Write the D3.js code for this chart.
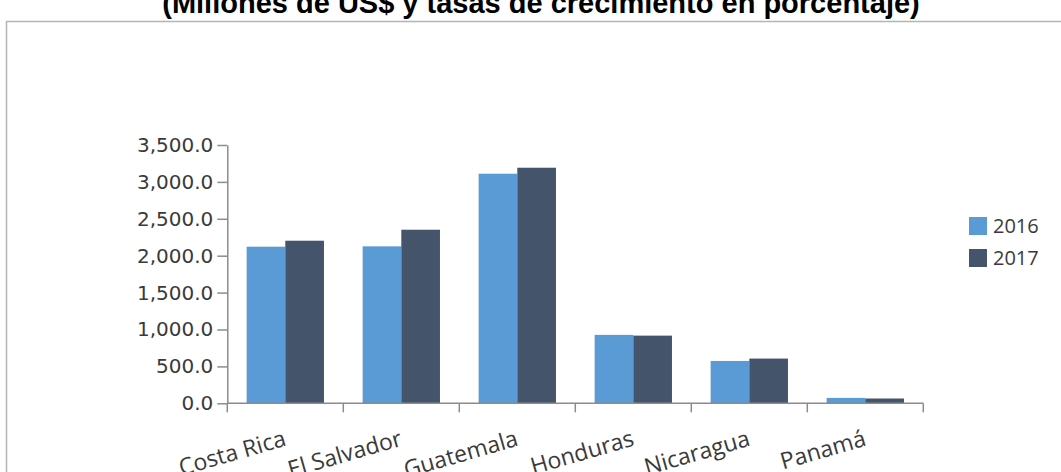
<!DOCTYPE html>
<html>
<head>
<meta charset="utf-8">
<script src="https://cdn.jsdelivr.net/npm/d3@7"></script>
<style>
  html, body { margin: 0; padding: 0; background: #fff; }
  svg { display: block; }
</style>
</head>
<body>
<svg id="chart" width="1061" height="472"></svg>
<script>
// Exports by country, millions of US$
const categories = ["Costa Rica", "El Salvador", "Guatemala", "Honduras", "Nicaragua", "Panamá"];
const seriesNames = ["2016", "2017"];
const values2016 = [2122, 2127, 3111, 927, 574, 73];
const values2017 = [2203, 2352, 3192, 917, 606, 65];
const yTicks = [0, 500, 1000, 1500, 2000, 2500, 3000, 3500];
const colors = ["#5B9BD5", "#44546A"];
const title = "(Millones de US$ y tasas de crecimiento en porcentaje)";

const seriesValues = [values2016, values2017];
const rows = categories.map((c, i) => ({
  category: c,
  values: seriesNames.map((s, j) => ({ series: s, value: seriesValues[j][i] }))
}));

const svg = d3.select("#chart");
const font = "'Open Sans', 'DejaVu Sans', sans-serif";
const axisColor = "#8c8c8c";
const textColor = "#3a3a3a";

// Outer frame (runs past the right and bottom edges)
svg.append("rect")
  .attr("x", 6.5).attr("y", 21.5)
  .attr("width", 1100).attr("height", 500)
  .attr("fill", "none")
  .attr("stroke", "#b4b4b4")
  .attr("stroke-width", 1.5);

// Title, sitting above the frame
svg.append("text")
  .attr("x", 541).attr("y", 13)
  .attr("text-anchor", "middle")
  .attr("font-family", "'Liberation Sans', Arial, sans-serif")
  .attr("font-weight", "bold")
  .attr("font-size", 29)
  .attr("fill", "#000")
  .text(title);

const plot = { left: 227.3, right: 923.3, top: 145, bottom: 403.3 };

const x0 = d3.scaleBand().domain(categories).range([plot.left, plot.right]).paddingInner(0).paddingOuter(0);
const x1 = d3.scaleBand().domain(seriesNames).range([0, x0.bandwidth()]).paddingInner(0).paddingOuter(0.5);
const y = d3.scaleLinear().domain([0, 3500]).range([plot.bottom, plot.top]);
const color = d3.scaleOrdinal().domain(seriesNames).range(colors);

// Bars
svg.append("g").selectAll("g")
  .data(rows)
  .join("g")
  .attr("transform", d => `translate(${x0(d.category)},0)`)
  .selectAll("rect")
  .data(d => d.values)
  .join("rect")
  .attr("x", d => x1(d.series))
  .attr("y", d => y(d.value))
  .attr("width", x1.bandwidth())
  .attr("height", d => y(0) - y(d.value))
  .attr("fill", d => color(d.series));

// Y axis
const yAxis = svg.append("g")
  .attr("transform", `translate(${plot.left},0)`)
  .call(d3.axisLeft(y).tickValues(yTicks).tickFormat(d3.format(",.1f")).tickSize(10).tickPadding(4).tickSizeOuter(0));
yAxis.select(".domain").attr("stroke", axisColor).attr("stroke-width", 1.5);
yAxis.selectAll(".tick line").attr("stroke", axisColor).attr("stroke-width", 1.5);
yAxis.selectAll(".tick text")
  .attr("font-family", "'DejaVu Sans', Verdana, sans-serif").attr("font-size", 20).attr("fill", textColor);

// X axis: ticks at the category boundaries
const boundaries = categories.map(c => x0(c)).concat([x0(categories[categories.length - 1]) + x0.bandwidth()]);
const xAxis = svg.append("g").attr("transform", `translate(0,${plot.bottom})`);
xAxis.append("line")
  .attr("x1", plot.left).attr("x2", plot.right)
  .attr("stroke", axisColor).attr("stroke-width", 1.5);
xAxis.selectAll("line.tick")
  .data(boundaries)
  .join("line")
  .attr("class", "tick")
  .attr("x1", d => d).attr("x2", d => d)
  .attr("y1", 0).attr("y2", 9)
  .attr("stroke", axisColor).attr("stroke-width", 1.5);

// Rotated category labels, ending at the band centre
xAxis.selectAll("text")
  .data(categories)
  .join("text")
  .attr("transform", d => `translate(${x0(d) + x0.bandwidth() / 2 + 2},42) rotate(-16)`)
  .attr("text-anchor", "end")
  .attr("font-family", font).attr("font-size", 23).attr("fill", textColor)
  .text(d => d);

// Legend
const legend = svg.append("g").attr("transform", "translate(969,217)");
const li = legend.selectAll("g")
  .data(seriesNames)
  .join("g")
  .attr("transform", (d, i) => `translate(0,${i * 32})`);
li.append("rect").attr("width", 18).attr("height", 18).attr("fill", d => color(d));
li.append("text")
  .attr("x", 24).attr("y", 9).attr("dy", "0.36em")
  .attr("font-family", font).attr("font-size", 20).attr("fill", textColor)
  .text(d => d);
</script>
</body>
</html>
